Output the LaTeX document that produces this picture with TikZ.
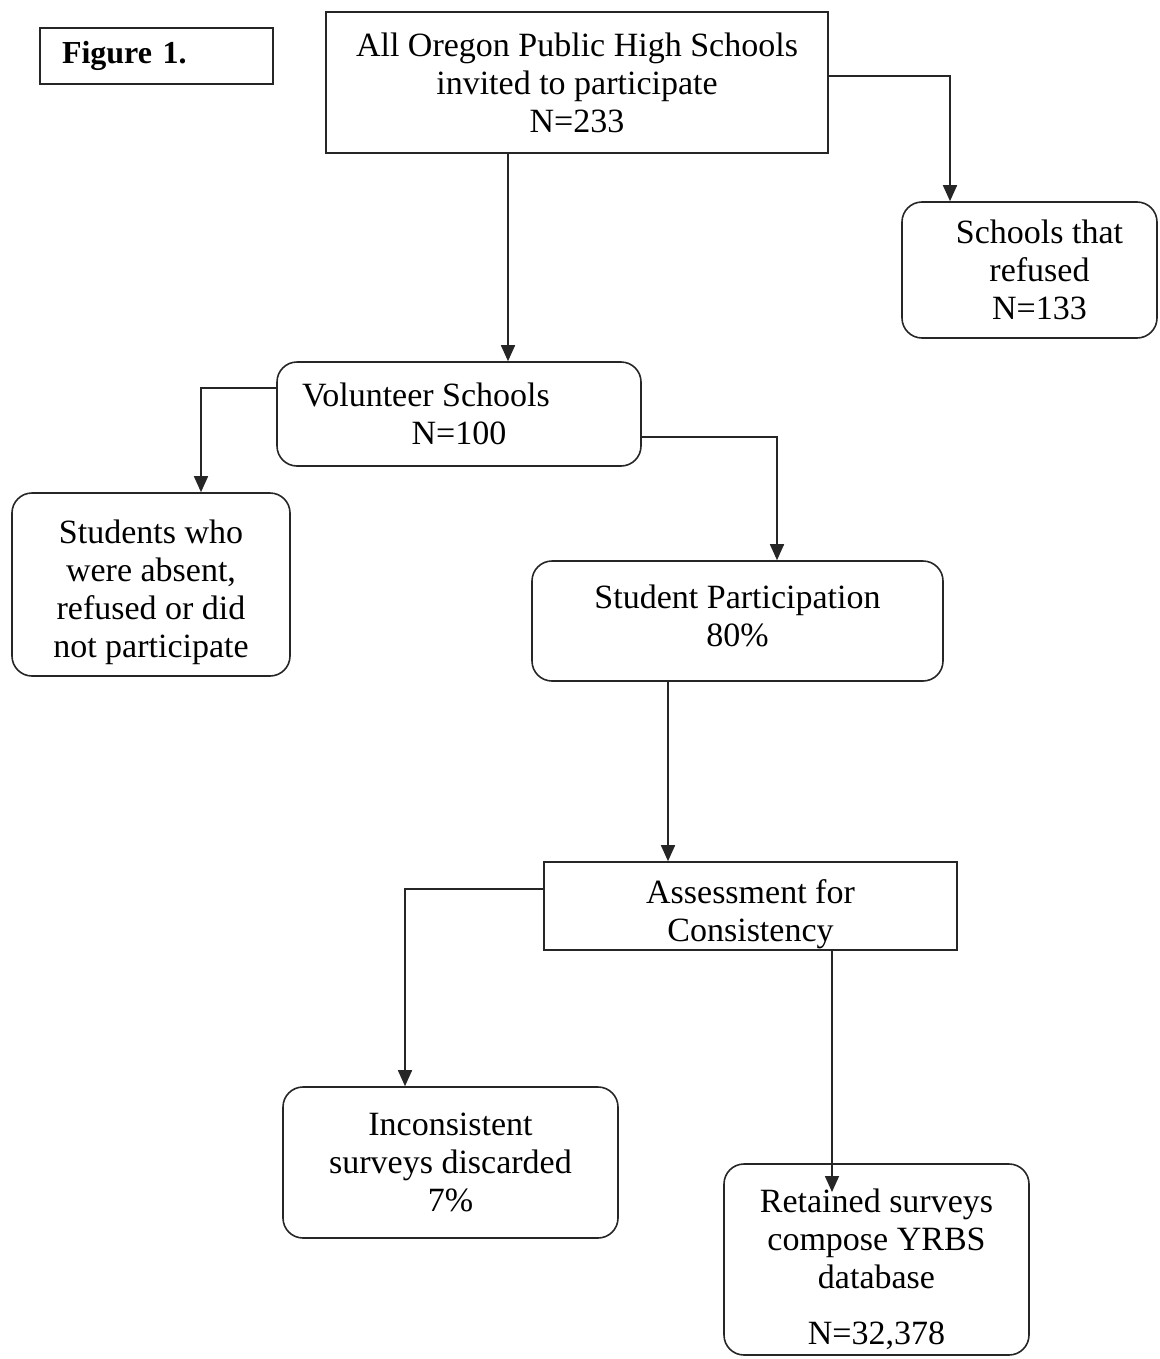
\documentclass[tikz,border=0pt]{standalone}
\usepackage{fontspec}
\setmainfont{Liberation Serif}
\usepackage{xcolor}
\usepackage{tikz}
\usetikzlibrary{arrows.meta}

\begin{document}
\begin{tikzpicture}[x=0.5pt, y=-0.5pt,
    every node/.style = {shape=rectangle, draw=black!85, line width=0.8pt,
      align=center, inner sep=2pt, text=black,
      font=\fontsize{17}{19}\selectfont},
    sqbox/.style = {sharp corners},
    rbox/.style = {rounded corners=10pt},
    arr/.style = {draw=black!85, line width=0.8pt,
      -{Triangle[width=7pt,length=8pt]}}]
    \useasboundingbox (0,0) rectangle (1160,1359);
    % boxes
    \node[sqbox, minimum width=116.5pt, minimum height=28pt, inner xsep=11pt,
      text width=94.5pt, align=left, font=\fontsize{16}{19}\bfseries] (fig) at (156.5,56) {Figure 1.};
    \node[sqbox, minimum width=251pt, minimum height=70.5pt] (top) at (577,82.5)
      {All Oregon Public High Schools\\invited to participate\\N=233};
    \node[rbox, minimum width=127.5pt, minimum height=68pt] (refused) at (1029.5,270)
      {\kern10pt Schools that\\\kern10pt refused\\\kern10pt N=133};
    \node[rbox, minimum width=182pt, minimum height=52pt] (volunteer) at (459,414)
      {Volunteer Schools\kern33pt\\N=100};
    \node[rbox, minimum width=139pt, minimum height=91.5pt] (students) at (151,584.5)
      {\rule{0pt}{20pt}Students who\\were absent,\\refused or did\\not participate};
    \node[rbox, minimum width=205.5pt, minimum height=60pt] (participation) at (737.5,621)
      {Student Participation\\80\%\rule[-5pt]{0pt}{5pt}};
    \node[sqbox, minimum width=206.5pt, minimum height=44pt, inner ysep=0pt] (assessment) at (750.5,906)
      {\rule{0pt}{20pt}Assessment for\\Consistency};
    \node[rbox, minimum width=167.5pt, minimum height=75.5pt] (inconsistent) at (450.5,1162.5)
      {Inconsistent\\surveys discarded\\7\%};
    \node[rbox, minimum width=152.5pt, minimum height=95.5pt] (retained) at (876.5,1259.5)
      {\rule{0pt}{22pt}Retained surveys\\compose YRBS\\database\\[9pt]N=32,378};
    \coordinate (retip) at (832,1192);
    % connectors
    \draw[arr] (top.east |- 0,76) -| (950,0 |- refused.north);
    \draw[arr] (top.south -| 508,0) -- (volunteer.north -| 508,0);
    \draw[arr] (volunteer.west |- 0,388) -| (201,0 |- students.north);
    \draw[arr] (volunteer.east |- 0,437) -| (777,0 |- participation.north);
    \draw[arr] (participation.south -| 668,0) -- (assessment.north -| 668,0);
    \draw[arr] (assessment.west |- 0,889) -| (405,0 |- inconsistent.north);
    \draw[arr] (assessment.south -| 832,0) -- (retip);
\end{tikzpicture}
\end{document}
